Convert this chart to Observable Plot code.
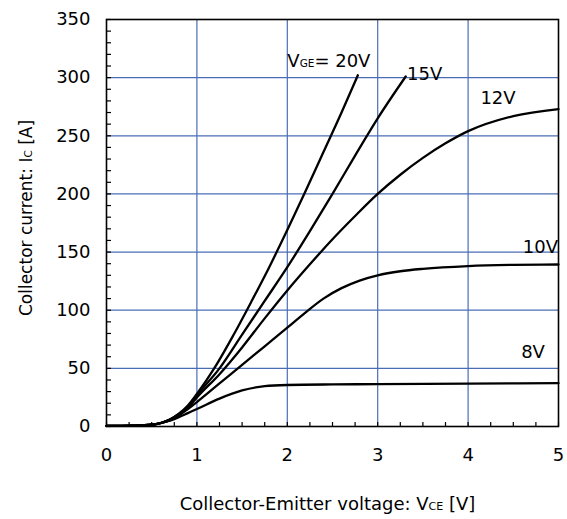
<!DOCTYPE html>
<html>
<head>
<meta charset="utf-8">
<script src="https://cdn.jsdelivr.net/npm/d3@7"></script>
<script src="https://cdn.jsdelivr.net/npm/@observablehq/plot@0.6"></script>
<style>
  html, body { margin: 0; padding: 0; background: #fff; }
  #chart { width: 567px; height: 519px; }
</style>
</head>
<body>
<div id="chart"></div>
<script>
// ---- Data ----
// [Vce (V), Ic (A)]
const vge20 = [[0,0.5],[0.3,0.8],[0.5,1.5],[0.6,3],[0.7,6],[0.8,11],[0.9,18],[1.0,28],[1.2,51],[1.4,78],[1.6,107],[1.8,137],[2.0,169],[2.2,202],[2.4,236],[2.6,270],[2.78,302]];
const vge15 = [[0,0.5],[0.3,0.8],[0.5,1.5],[0.6,3],[0.7,6],[0.8,10.5],[0.9,17],[1.0,27],[1.25,50],[1.5,79],[1.75,108],[2.0,137],[2.25,168],[2.5,200],[2.75,233],[3.0,265],[3.31,301]];
const vge12 = [[0,0.5],[0.3,0.8],[0.5,1.5],[0.6,3],[0.7,5.5],[0.8,10],[0.9,16],[1.0,25],[1.25,45],[1.5,68],[1.75,93],[2.0,117],[2.25,139.5],[2.5,161],[2.75,181],[3.0,200],[3.25,216.5],[3.5,231],[3.75,243.5],[4.0,254],[4.5,267],[5.0,273]];
const vge10 = [[0,0.5],[0.3,0.8],[0.5,1.5],[0.6,3],[0.7,5.5],[0.8,9.5],[0.9,15],[1.0,21],[1.25,37],[1.5,53],[1.75,69],[2.0,85],[2.2,98],[2.4,110],[2.6,119],[2.8,125.5],[3.0,130],[3.25,133.5],[3.5,135.6],[4.0,138],[4.5,139],[5.0,139.3]];
const vge8  = [[0,0.5],[0.3,0.8],[0.5,1.5],[0.6,3],[0.7,5],[0.8,8],[0.9,11.5],[1.0,15],[1.25,24],[1.5,31],[1.75,34.7],[2.0,35.7],[2.5,36.2],[3.0,36.4],[4.0,36.8],[5.0,37.3]];

const seriesNames = ["20V", "15V", "12V", "10V", "8V"];
const seriesPoints = [vge20, vge15, vge12, vge10, vge8];

const labelTexts = ["VGE= 20V", "15V", "12V", "10V", "8V"];
const labelX = [2.0, 3.325, 4.136, 4.605, 4.587];
const labelY = [314.5, 303, 282, 154, 63.7];

const xTicks = [0, 1, 2, 3, 4, 5];
const yTicks = [0, 50, 100, 150, 200, 250, 300, 350];
const xMinor = d3.range(0, 5.001, 0.25);
const yMinor = d3.range(0, 350.1, 10);
const xGrid = [1, 2, 3, 4];
const yGrid = [50, 100, 150, 200, 250, 300];

const xTitle = ["Collector-Emitter voltage: V", "CE", " [V]"];
const yTitle = ["Collector current: I", "C", " [A]"];

// ---- Build ----
const lineData = seriesPoints.flatMap((pts, i) => pts.map(([x, y]) => ({series: seriesNames[i], x, y})));
const labelData = labelTexts.map((t, i) => ({text: t, x: labelX[i], y: labelY[i]}));

const W = 567, H = 519;
const mL = 106, mR = 9, mT = 19, mB = 93;
const pw = W - mL - mR, ph = H - mT - mB;
const gridColor = "#4a6eb5";
const font = "'DejaVu Sans', Verdana, sans-serif";

const chart = Plot.plot({
  width: W, height: H,
  marginLeft: mL, marginRight: mR, marginTop: mT, marginBottom: mB,
  style: {fontFamily: font, fontSize: "18px", background: "#fff", color: "#000"},
  x: {domain: [0, 5]},
  y: {domain: [0, 350]},
  marks: [
    Plot.ruleX(xGrid, {x: d => d, stroke: gridColor, strokeWidth: 1.2}),
    Plot.ruleY(yGrid, {y: d => d, stroke: gridColor, strokeWidth: 1.2}),
    Plot.tickX(xMinor, {x: d => d, stroke: "#000", strokeWidth: 1.2, insetTop: ph - 4}),
    Plot.tickY(yMinor, {y: d => d, stroke: "#000", strokeWidth: 1.2, insetRight: pw - 5}),
    Plot.axisX(xTicks, {tickSize: 0, tickPadding: 22, label: null, fontSize: 18, tickFormat: d3.format("d")}),
    Plot.axisY(yTicks, {tickSize: 0, tickPadding: 16, label: null, fontSize: 18, tickFormat: d3.format("d")}),
    Plot.line(lineData, {x: "x", y: "y", z: "series", stroke: "#000", strokeWidth: 2.3, curve: "monotone-x"}),
    Plot.frame({stroke: "#000", strokeWidth: 1.6}),
    Plot.text(labelData, {x: "x", y: "y", text: "text", textAnchor: "start", fontSize: 18, fill: "#000"})
  ]
});

const svg = d3.select(chart);

// subscript in the VGE label
svg.selectAll("text").filter(function () { return this.textContent === "VGE= 20V"; }).each(function () {
  const t = d3.select(this);
  t.text(null);
  t.append("tspan").text("V");
  t.append("tspan").attr("font-size", "10.5px").text("GE");
  t.append("tspan").text("= 20V");
});

// axis titles
function titled(parts, el, sub) {
  el.append("tspan").text(parts[0]);
  el.append("tspan").attr("font-size", sub).text(parts[1]);
  el.append("tspan").text(parts[2]);
}
const xt = svg.append("text")
  .attr("x", 327.5).attr("y", 510)
  .attr("text-anchor", "middle")
  .attr("font-family", font).attr("font-size", "18px").attr("fill", "#000");
titled(xTitle, xt, "11px");
const yt = svg.append("text")
  .attr("transform", "translate(31.5,218) rotate(-90)")
  .attr("text-anchor", "middle")
  .attr("font-family", font).attr("font-size", "17px").attr("fill", "#000");
titled(yTitle, yt, "10.5px");

document.getElementById("chart").appendChild(chart);
</script>
</body>
</html>
